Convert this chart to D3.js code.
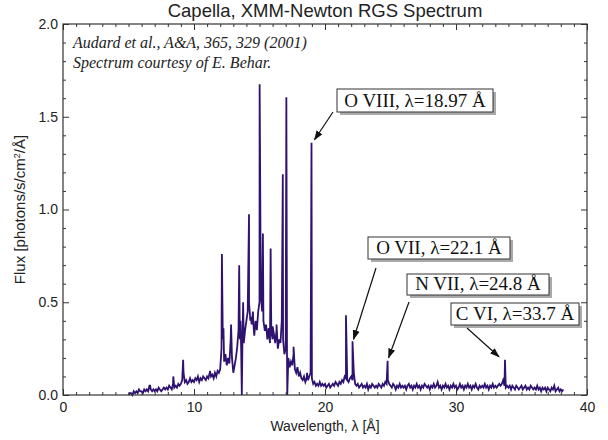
<!DOCTYPE html>
<html>
<head>
<meta charset="utf-8">
<script src="https://cdn.jsdelivr.net/npm/d3@7"></script>
<style>
  body { margin: 0; background: #fff; }
  svg { display: block; }
</style>
</head>
<body>
<div id="c"></div>
<script>
"use strict";

// continuum flux, one value every 0.1 A starting at 5.0 A
const contStart = 5.0
const contStep = 0.1
const continuum = [
  0.00,0.01,0.01,0.00,0.02,0.01,0.02,0.01,0.03,0.02,
  0.02,0.01,0.03,0.02,0.03,0.02,0.05,0.03,0.02,0.03,
  0.02,0.03,0.02,0.04,0.03,0.02,0.03,0.04,0.03,0.04,
  0.03,0.05,0.04,0.03,0.06,0.04,0.05,0.04,0.06,0.05,
  0.06,0.08,0.12,0.07,0.08,0.06,0.07,0.09,0.07,0.08,
  0.07,0.09,0.08,0.10,0.07,0.09,0.08,0.10,0.09,0.08,
  0.10,0.09,0.12,0.10,0.11,0.09,0.12,0.10,0.13,0.12,
  0.14,0.25,0.30,0.18,0.22,0.16,0.20,0.17,0.30,0.20,
  0.12,0.16,0.20,0.26,0.35,0.30,0.25,0.30,0.28,0.35,
  0.40,0.45,0.50,0.40,0.38,0.45,0.32,0.40,0.35,0.45,
  0.50,0.55,0.45,0.40,0.35,0.38,0.30,0.36,0.28,0.34,
  0.30,0.33,0.28,0.35,0.25,0.30,0.28,0.40,0.30,0.22,
  0.25,0.22,0.20,0.15,0.18,0.16,0.22,0.14,0.12,0.15,
  0.10,0.12,0.09,0.08,0.10,0.07,0.09,0.08,0.10,0.12,
  0.09,0.06,0.07,0.05,0.06,0.05,0.07,0.05,0.06,0.05,
  0.06,0.04,0.05,0.06,0.04,0.05,0.06,0.05,0.07,0.06,
  0.05,0.07,0.06,0.08,0.07,0.10,0.09,0.08,0.07,0.09,
  0.10,0.08,0.12,0.06,0.05,0.06,0.04,0.05,0.06,0.04,
  0.05,0.04,0.06,0.03,0.05,0.04,0.06,0.05,0.04,0.05,
  0.04,0.06,0.05,0.04,0.06,0.05,0.07,0.06,0.08,0.06,
  0.05,0.04,0.06,0.05,0.03,0.05,0.04,0.06,0.04,0.05,
  0.04,0.05,0.03,0.05,0.06,0.04,0.05,0.03,0.05,0.04,
  0.06,0.04,0.05,0.03,0.05,0.04,0.06,0.05,0.04,0.05,
  0.03,0.05,0.04,0.06,0.04,0.05,0.07,0.04,0.05,0.03,
  0.05,0.04,0.06,0.04,0.05,0.03,0.05,0.04,0.06,0.04,
  0.05,0.03,0.04,0.06,0.04,0.05,0.03,0.05,0.04,0.06,
  0.04,0.05,0.03,0.05,0.04,0.06,0.04,0.03,0.05,0.04,
  0.05,0.04,0.06,0.04,0.05,0.03,0.05,0.04,0.06,0.04,
  0.05,0.04,0.05,0.06,0.05,0.06,0.08,0.05,0.04,0.05,
  0.04,0.05,0.03,0.05,0.04,0.03,0.05,0.04,0.03,0.04,
  0.05,0.03,0.04,0.05,0.03,0.04,0.03,0.05,0.04,0.03,
  0.04,0.03,0.05,0.03,0.04,0.02,0.04,0.03,0.04,0.02,
  0.04,0.03,0.02,0.04,0.03,0.05,0.02,0.03,0.04,0.02,
  0.03,0.02,0.03
]

// narrow emission lines (and the two detector gaps that drop to zero)
const lineWave = [6.65, 8.42, 9.17, 11.22, 12.13, 12.25, 12.83, 13.45, 13.55, 13.65, 13.75,
  14.2, 14.35, 14.52, 15.01, 15.26, 15.45, 15.85, 16.0, 16.3, 16.78, 17.05, 17.12,
  17.6, 18.63, 18.97, 21.6, 22.1, 24.78, 33.74]
const lineFlux = [0.05, 0.10, 0.19, 0.13, 0.76, 0.36, 0.38, 0.70, 0.40, 0.00, 0.50,
  0.975, 0.42, 0.40, 1.675, 0.87, 0.35, 0.79, 0.37, 0.38, 1.19, 1.605, 0.00,
  0.26, 0.12, 1.36, 0.43, 0.29, 0.185, 0.19]

const xTicks = [0, 10, 20, 30, 40]
const yTicks = [0.0, 0.5, 1.0, 1.5, 2.0]

const labels = [
  { text: "O VIII, λ=18.97 Å", wave: 18.97, flux: 1.36 },
  { text: "O VII, λ=22.1 Å", wave: 22.1, flux: 0.29 },
  { text: "N VII, λ=24.8 Å", wave: 24.78, flux: 0.185 },
  { text: "C VI, λ=33.7 Å", wave: 33.74, flux: 0.19 }
]
// where the boxes sit (px) and where the arrows start
const boxPos = [
  { x: 337, y: 89, w: 156, h: 23, ax: 333, ay: 112, dx: 3, dy: -3 },
  { x: 368, y: 237, w: 142, h: 22, ax: 376, ay: 268, dx: 1, dy: -2 },
  { x: 407, y: 274, w: 142, h: 21, ax: 409, ay: 302, dx: 1, dy: -3 },
  { x: 451, y: 303, w: 128, h: 22, ax: 467, ay: 328, dx: -6, dy: -3 }
]

const W = 608, H = 440
const margin = { top: 24, right: 21, bottom: 45, left: 63 }
const width = W - margin.left - margin.right
const height = H - margin.top - margin.bottom
const lineColor = "#2e1270"
const axisColor = "#333"
const sans = "'Liberation Sans', Arial, sans-serif"
const serif = "'Liberation Serif', 'Times New Roman', serif"

let mainSvg = d3.select('#c').append('svg')
  .attr('width', W).attr('height', H)

let defs = mainSvg.append('defs')
defs.append('marker')
  .attr('id', 'arrow')
  .attr('viewBox', '0 0 10 10')
  .attr('refX', 9).attr('refY', 5)
  .attr('markerWidth', 10).attr('markerHeight', 10)
  .attr('markerUnits', 'userSpaceOnUse')
  .attr('orient', 'auto')
  .append('path')
  .attr('d', 'M0,1.5 L10,5 L0,8.5 Z')
  .attr('fill', '#111')

let svg = mainSvg.append('g')
  .attr('transform', "translate(" + margin.left + "," + margin.top + ")")

const xScale = d3.scaleLinear().domain([0, 40]).range([0, width])
const yScale = d3.scaleLinear().domain([0, 2]).range([height, 0])

// spectrum points: continuum grid + lines, sorted by wavelength
let points = continuum.map((f, i) => ({ w: contStart + i * contStep, f: f }))
lineWave.forEach((w, i) => points.push({ w: w, f: lineFlux[i] }))
points.sort((a, b) => a.w - b.w)

svg.append('path')
  .datum(points)
  .attr('fill', 'none')
  .attr('stroke', lineColor)
  .attr('stroke-width', 1.8)
  .attr('stroke-linejoin', 'miter')
  .attr('d', d3.line().x(d => xScale(d.w)).y(d => yScale(Math.max(0, d.f))))

// axes: ticks point inward on all four sides
const xMinor = d3.range(0, 41, 1).filter(v => v % 10 != 0)
const yMinor = d3.range(0, 21, 1).map(v => v / 10).filter(v => Math.round(v * 10) % 5 != 0)

function styleAxis(g) {
  g.selectAll('path').attr('stroke', 'none')
  g.selectAll('line').attr('stroke', axisColor).attr('stroke-width', 1)
  g.selectAll('text').attr('fill', '#222').style('font-family', sans).style('font-size', '14px')
}

svg.append('g').attr('transform', 'translate(0,' + height + ')')
  .call(d3.axisBottom(xScale).tickValues(xTicks).tickSize(-6).tickPadding(7).tickFormat(d3.format('d')))
  .call(styleAxis)
svg.append('g').attr('transform', 'translate(0,' + height + ')')
  .call(d3.axisBottom(xScale).tickValues(xMinor).tickSize(-3).tickFormat(''))
  .call(styleAxis)
svg.append('g')
  .call(d3.axisTop(xScale).tickValues(xTicks).tickSize(-6).tickFormat(''))
  .call(styleAxis)
svg.append('g')
  .call(d3.axisTop(xScale).tickValues(xMinor).tickSize(-3).tickFormat(''))
  .call(styleAxis)

svg.append('g')
  .call(d3.axisLeft(yScale).tickValues(yTicks).tickSize(-6).tickPadding(5).tickFormat(d3.format('.1f')))
  .call(styleAxis)
svg.append('g')
  .call(d3.axisLeft(yScale).tickValues(yMinor).tickSize(-3).tickFormat(''))
  .call(styleAxis)
svg.append('g').attr('transform', 'translate(' + width + ',0)')
  .call(d3.axisRight(yScale).tickValues(yTicks).tickSize(-6).tickFormat(''))
  .call(styleAxis)
svg.append('g').attr('transform', 'translate(' + width + ',0)')
  .call(d3.axisRight(yScale).tickValues(yMinor).tickSize(-3).tickFormat(''))
  .call(styleAxis)

svg.append('rect')
  .attr('x', 0).attr('y', 0).attr('width', width).attr('height', height)
  .attr('fill', 'none').attr('stroke', axisColor).attr('stroke-width', 1.2)

// titles
mainSvg.append('text')
  .attr('x', margin.left + width / 2).attr('y', 17)
  .attr('text-anchor', 'middle')
  .style('font-family', sans).style('font-size', '18.5px').attr('fill', '#222')
  .text('Capella, XMM-Newton RGS Spectrum')

mainSvg.append('text')
  .attr('x', margin.left + width / 2).attr('y', 431)
  .attr('text-anchor', 'middle')
  .style('font-family', sans).style('font-size', '14px').attr('fill', '#222')
  .text('Wavelength, λ [Å]')

let yl = mainSvg.append('text')
  .attr('transform', 'translate(25,' + (margin.top + height / 2) + ') rotate(-90)')
  .attr('text-anchor', 'middle')
  .style('font-family', sans).style('font-size', '15px').attr('fill', '#222')
yl.append('tspan').text('Flux [photons/s/cm')
yl.append('tspan').text('2').attr('dy', -5).style('font-size', '9px')
yl.append('tspan').text('/Å]').attr('dy', 5)

// reference
const refLines = ['Audard et al., A&A, 365, 329 (2001)', 'Spectrum courtesy of E. Behar.']
refLines.forEach((t, i) => {
  mainSvg.append('text')
    .attr('x', 73).attr('y', 48 + i * 20)
    .style('font-family', serif).style('font-style', 'italic').style('font-size', '16px')
    .attr('fill', '#222')
    .text(t)
})

// line labels with arrows
labels.forEach((lab, i) => {
  const b = boxPos[i]
  let g = mainSvg.append('g')
  g.append('rect')
    .attr('x', b.x + 3).attr('y', b.y + 3).attr('width', b.w).attr('height', b.h)
    .attr('fill', '#aaa')
  g.append('rect')
    .attr('x', b.x).attr('y', b.y).attr('width', b.w).attr('height', b.h)
    .attr('fill', '#fff').attr('stroke', '#333').attr('stroke-width', 1)
  g.append('text')
    .attr('x', b.x + b.w / 2).attr('y', b.y + b.h - 5)
    .attr('text-anchor', 'middle')
    .style('font-family', serif).style('font-size', '19px').attr('fill', '#111')
    .text(lab.text)
  const tx = margin.left + xScale(lab.wave) + b.dx
  const ty = margin.top + yScale(lab.flux) + b.dy
  g.append('line')
    .attr('x1', b.ax).attr('y1', b.ay).attr('x2', tx).attr('y2', ty)
    .attr('stroke', '#111').attr('stroke-width', 1.2)
    .attr('marker-end', 'url(#arrow)')
})
</script>
</body>
</html>
